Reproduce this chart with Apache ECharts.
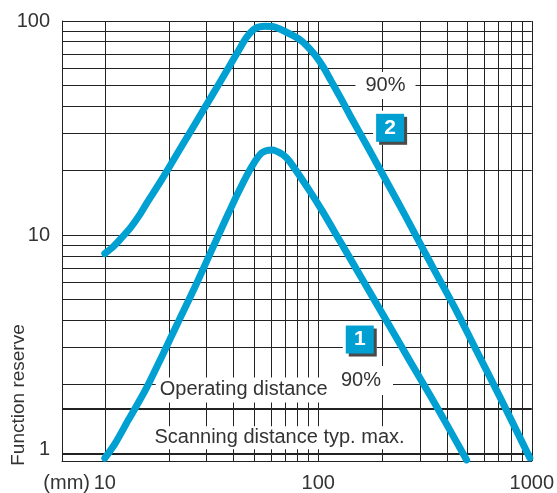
<!DOCTYPE html>
<html>
<head>
<meta charset="utf-8">
<script src="https://cdn.jsdelivr.net/npm/echarts@6/dist/echarts.min.js"></script>
<style>
  html, body { margin: 0; padding: 0; background: #fff; }
  #chart { width: 557px; height: 493px; }
</style>
</head>
<body>
<div id="chart"></div>
<script>
// ---- data ----
// curve 1: scanning distance (mm) vs function reserve
const curve1Dist = [10, 11.2, 12.9, 15.5, 18.5, 22.1, 26.5, 31.7, 37.9, 42.2, 48.8, 54.3, 60.5, 68.5, 73.8, 91.4, 104.7, 126.5, 158.5, 220.8, 269.2, 333.4, 407.4, 495.5];
const curve1Res  = [0.908, 1.067, 1.37, 1.89, 2.71, 3.94, 5.75, 8.53, 12.6, 15.85, 20.9, 24.2, 25.0, 23.7, 21.9, 16.0, 12.9, 9.35, 6.37, 3.61, 2.57, 1.79, 1.26, 0.89];
// curve 2
const curve2Dist = [10, 11.0, 12.0, 13.2, 14.5, 15.8, 18.5, 22.1, 26.5, 31.7, 37.9, 42.2, 46.2, 50.6, 56.2, 61.7, 67.6, 73.8, 81.3, 88.3, 96.6, 105.4, 114.8, 126.5, 140.6, 171.4, 208.9, 254.7, 289, 354.8, 446.7, 532, 707.9, 979.5];
const curve2Res  = [8.2, 8.87, 9.73, 10.84, 12.36, 14.22, 18.2, 24.5, 33.1, 44.7, 60.3, 72.4, 84.1, 92.3, 94.4, 94.0, 90.8, 86.9, 82.2, 76.7, 69.2, 61.0, 52.5, 44.2, 36.3, 25.5, 17.8, 12.4, 9.77, 6.68, 4.37, 3.09, 1.76, 0.91];
// grid lines
const xGridValues = [10, 20, 30, 40, 50, 60, 70, 80, 90, 100, 200, 300, 400, 500, 600, 700, 800, 900, 1000];
const yGridValues = [2, 3, 4, 5, 6, 7, 8, 9, 10, 20, 30, 40, 50, 60, 70, 80, 90, 100];
// reference lines
const operatingReserve = 1.55;
const scanningReserve = 0.95;
// texts
const operatingText = 'Operating distance';
const scanningText = 'Scanning distance typ. max.';
const percentText = '90%';
const curveNames = ['1', '2'];
const xUnit = '(mm)';
const yName = 'Function reserve';

const BLUE = '#00a0d2';
const FONT = 'Liberation Sans';

const chart = echarts.init(document.getElementById('chart'));

function pairs(xs, ys) { return xs.map((x, i) => [x, ys[i]]); }

const textLabel = (coord, text, padding) => ({
  coord: coord,
  symbol: 'rect',
  symbolSize: 1,
  itemStyle: { color: 'rgba(0,0,0,0)' },
  label: {
    show: true, position: 'inside', formatter: text,
    color: '#333', fontSize: 20, fontFamily: FONT,
    backgroundColor: '#fff', padding: padding
  }
});

const boxLabel = (coord, text) => ({
  coord: coord,
  symbol: 'rect',
  symbolSize: [34, 34],
  itemStyle: { color: '#fff' },
  label: {
    show: true, position: 'inside', formatter: text,
    color: '#fff', fontSize: 21, fontWeight: 'bold', fontFamily: FONT,
    backgroundColor: BLUE, width: 28, height: 28, lineHeight: 28, align: 'center',
    padding: 0,
    shadowColor: '#4a4a4a', shadowBlur: 0, shadowOffsetX: 3, shadowOffsetY: 3
  }
});

const option = {
  animation: false,
  backgroundColor: '#fff',
  grid: { left: 62, right: 25, top: 21, bottom: 32 },
  xAxis: {
    type: 'log', logBase: 10, min: 6.3, max: 1000,
    axisLine: { show: true, lineStyle: { color: '#222', width: 1 } },
    axisTick: { show: false },
    splitLine: { show: false },
    axisLabel: {
      showMinLabel: false, margin: 12,
      color: '#333', fontSize: 20, fontFamily: FONT,
      formatter: v => String(Math.round(v))
    }
  },
  yAxis: {
    type: 'log', logBase: 10, min: 0.88, max: 100,
    axisLine: { show: true, lineStyle: { color: '#222', width: 1 } },
    axisTick: { show: false },
    splitLine: { show: false },
    axisLabel: {
      showMinLabel: false, margin: 12,
      color: '#333', fontSize: 20, fontFamily: FONT,
      formatter: v => String(Math.round(v))
    }
  },
  graphic: [
    { type: 'text', x: 90, y: 483,
      style: { text: xUnit, fill: '#333', font: '20px "Liberation Sans"', align: 'right', verticalAlign: 'middle' } },
    { type: 'text', x: 19, y: 395, rotation: Math.PI / 2,
      style: { text: yName, fill: '#333', font: '19px "Liberation Sans"', align: 'center', verticalAlign: 'middle' } }
  ],
  series: [
    {
      name: 'grid', type: 'line', data: [], silent: true,
      markLine: {
        z: 1, silent: true, symbol: ['none', 'none'],
        label: { show: false },
        emphasis: { disabled: true },
        lineStyle: { color: '#222', width: 1, type: 'solid' },
        data: [
          ...xGridValues.map(v => ({ xAxis: v })),
          ...yGridValues.map(v => ({ yAxis: v })),
          { yAxis: operatingReserve, lineStyle: { width: 2, color: '#222' } },
          { yAxis: scanningReserve, lineStyle: { width: 2, color: '#222' } }
        ]
      }
    },
    {
      name: 'texts', type: 'line', data: [], silent: true,
      markPoint: {
        z: 2, silent: true,
        data: [
          textLabel([44.7, 1.89], operatingText, [3, 4, 2, 4]),
          textLabel([65.8, 1.13], scanningText, [2, 4, 1, 4]),
          textLabel([206.5, 50], percentText, [4, 10, 3, 10]),
          textLabel([158.5, 2.09], percentText, [5, 12, 4, 12])
        ]
      }
    },
    {
      name: 'curve 1', type: 'line', z: 4, data: pairs(curve1Dist, curve1Res),
      showSymbol: false, smooth: 0.3, silent: true,
      lineStyle: { color: BLUE, width: 7, cap: 'round', join: 'round' }
    },
    {
      name: 'curve 2', type: 'line', z: 4, data: pairs(curve2Dist, curve2Res),
      showSymbol: false, smooth: 0.3, silent: true,
      lineStyle: { color: BLUE, width: 7, cap: 'round', join: 'round' }
    },
    {
      name: 'boxes', type: 'line', data: [], silent: true,
      markPoint: {
        z: 5, silent: true,
        data: [
          boxLabel([156.4, 3.25], curveNames[0]),
          boxLabel([217, 31.7], curveNames[1])
        ]
      }
    }
  ]
};

chart.setOption(option);
</script>
</body>
</html>
